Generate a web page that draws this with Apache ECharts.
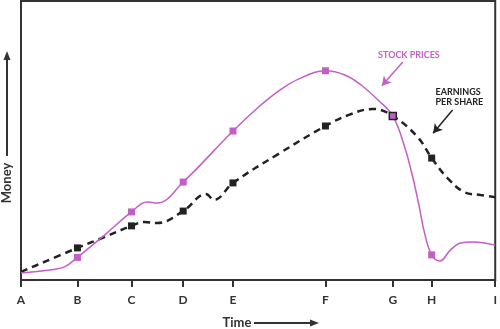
<!DOCTYPE html>
<html>
<head>
<meta charset="utf-8">
<script src="https://cdn.jsdelivr.net/npm/echarts@6/dist/echarts.min.js"></script>
<style>
  html, body { margin: 0; padding: 0; background: #fff; }
  #chart { width: 500px; height: 329px; }
</style>
</head>
<body>
<div id="chart"></div>
<script>
// Time axis: letter milestones and where they sit on the time scale (0-100)
const tickNames = ['A', 'B', 'C', 'D', 'E', 'F', 'G', 'H', 'I'];
const tickTimes = [0, 11.9, 23.3, 34.2, 44.7, 64.2, 78.4, 86.6, 100];

// Stock prices: time and money values along the curve
const stockTimes  = [0, 6.1, 9.2, 11.9, 17.6, 23.3, 26.6, 28.7, 34.2, 44.7, 50.1, 54.3, 58.5, 64.2, 68.3, 71.7, 75.3, 78.4, 80.9, 82.6, 83.9, 85.1, 86.6, 88.3, 90.6, 92.7, 95.2, 100];
const stockValues = [2.5, 3.6, 4.7, 8.1, 16.1, 24.4, 28.0, 27.6, 35.1, 53.4, 62.0, 67.7, 72.0, 75.0, 73.5, 69.9, 64.5, 58.8, 47.7, 36.9, 26.9, 16.8, 9.0, 6.8, 10.8, 13.3, 13.6, 12.5];

// Earnings per share: time and money values along the curve
const epsTimes  = [0, 11.9, 17.6, 23.3, 26.0, 28.7, 34.2, 39.0, 40.7, 44.7, 54.3, 64.2, 69.0, 74.2, 78.4, 83.6, 86.6, 89.9, 93.5, 96.9, 100];
const epsValues = [2.9, 11.5, 15.4, 19.4, 20.8, 20.4, 24.7, 30.8, 28.7, 34.8, 45.2, 55.2, 59.1, 61.3, 58.8, 51.3, 43.7, 36.6, 31.5, 30.5, 29.7];

// Milestones that carry a square marker on both curves
const markedTicks = ['B', 'C', 'D', 'E', 'F', 'G', 'H'];

const PURPLE = '#c25fc6';
const DARK = '#222222';
const AXIS = '#333333';

const markedTimes = markedTicks.map(n => tickTimes[tickNames.indexOf(n)]);
const isMarked = t => markedTimes.some(m => Math.abs(m - t) < 1e-6);
const gTime = tickTimes[tickNames.indexOf('G')];

const stockData = stockTimes.map((t, i) => {
  const item = { value: [t, stockValues[i]] };
  if (Math.abs(t - gTime) < 1e-6) {
    item.itemStyle = { color: PURPLE, borderColor: DARK, borderWidth: 1.5 };
  }
  return item;
});
const epsData = epsTimes.map((t, i) => [t, epsValues[i]]);

const chart = echarts.init(document.getElementById('chart'), null, { renderer: 'canvas' });

const option = {
  animation: false,
  backgroundColor: '#ffffff',
  grid: {
    left: 21, right: 2, top: 1, bottom: 49,
    show: true, borderColor: AXIS, borderWidth: 2, backgroundColor: 'transparent'
  },
  xAxis: {
    type: 'value', min: 0, max: 100,
    splitLine: { show: false },
    axisLine: { show: true, lineStyle: { color: AXIS, width: 2 } },
    axisTick: {
      show: true, customValues: tickTimes, length: 7, inside: false,
      lineStyle: { color: AXIS, width: 2 }
    },
    axisLabel: {
      customValues: tickTimes,
      margin: 14,
      color: AXIS,
      fontFamily: 'Lato', fontSize: 12, fontWeight: 'bold',
      formatter: v => {
        const i = tickTimes.findIndex(t => Math.abs(t - v) < 1e-6);
        return i >= 0 ? tickNames[i] : '';
      }
    }
  },
  yAxis: {
    type: 'value', min: 0, max: 100,
    axisLine: { show: false }, axisTick: { show: false },
    axisLabel: { show: false }, splitLine: { show: false }
  },
  series: [
    {
      name: 'Earnings per share',
      type: 'line',
      data: epsData,
      smooth: 0.4,
      showAllSymbol: true,
      symbol: v => isMarked(v[0]) ? 'rect' : 'none',
      symbolSize: 7,
      itemStyle: { color: DARK },
      lineStyle: { color: DARK, width: 2.5, type: [7, 5] },
      z: 2,
      markLine: {
        silent: true, animation: false,
        symbol: ['none', 'arrow'], symbolSize: [8, 9],
        label: { show: false },
        lineStyle: { color: DARK, width: 1.5, type: 'solid' },
        data: [[{ coord: [91.0, 60.9] }, { coord: [86.9, 52.6] }]]
      }
    },
    {
      name: 'Stock prices',
      type: 'line',
      data: stockData,
      smooth: 0.4,
      showAllSymbol: true,
      symbol: v => isMarked(v[0]) ? 'rect' : 'none',
      symbolSize: 7,
      itemStyle: { color: PURPLE },
      lineStyle: { color: PURPLE, width: 1.5 },
      z: 3,
      markLine: {
        silent: true, animation: false,
        symbol: ['none', 'arrow'], symbolSize: [8, 9],
        label: { show: false },
        lineStyle: { color: PURPLE, width: 1.5, type: 'solid' },
        data: [[{ coord: [80.5, 78.1] }, { coord: [76.1, 69.6] }]]
      }
    }
  ]
};

chart.setOption(option);

// Axis titles with their arrows, and the curve annotations placed in data space
const stockLabelPos = chart.convertToPixel({ gridIndex: 0 }, [81.8, 80.6]);
const epsLabelPos = chart.convertToPixel({ gridIndex: 0 }, [87.4, 65.6]);

chart.setOption({
  graphic: [
    {
      type: 'text', x: 7, y: 183, rotation: Math.PI / 2,
      style: {
        text: 'Money', fill: AXIS, font: 'bold 13px Lato',
        align: 'center', verticalAlign: 'middle'
      }
    },
    {
      type: 'line', shape: { x1: 7, y1: 156, x2: 7, y2: 58 },
      style: { stroke: AXIS, lineWidth: 2 }
    },
    {
      type: 'polygon', shape: { points: [[7, 51], [3.5, 60], [10.5, 60]] },
      style: { fill: AXIS }
    },
    {
      type: 'text', x: 237, y: 323,
      style: {
        text: 'Time', fill: AXIS, font: 'bold 13px Lato',
        align: 'center', verticalAlign: 'middle'
      }
    },
    {
      type: 'line', shape: { x1: 254, y1: 323, x2: 312, y2: 323 },
      style: { stroke: AXIS, lineWidth: 2 }
    },
    {
      type: 'polygon', shape: { points: [[319, 323], [310, 319.5], [310, 326.5]] },
      style: { fill: AXIS }
    },
    {
      type: 'text', x: stockLabelPos[0], y: stockLabelPos[1],
      style: {
        text: 'STOCK PRICES', fill: PURPLE, font: 'bold 9px Lato',
        align: 'center', verticalAlign: 'middle'
      }
    },
    {
      type: 'text', x: epsLabelPos[0], y: epsLabelPos[1],
      style: {
        text: 'EARNINGS\nPER SHARE', fill: DARK, font: 'bold 9px Lato',
        lineHeight: 10.5, align: 'left', verticalAlign: 'middle'
      }
    }
  ]
});
</script>
</body>
</html>
